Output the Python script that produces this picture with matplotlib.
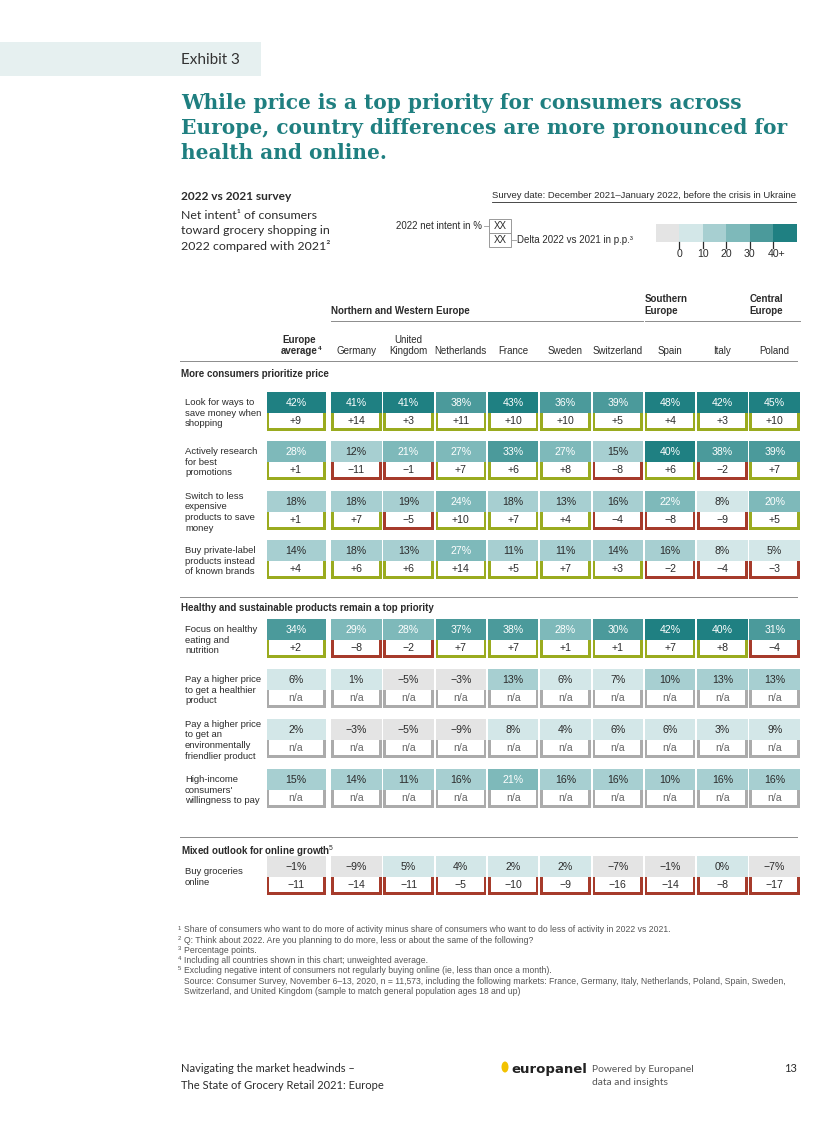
import matplotlib
matplotlib.use('Agg')
import matplotlib.pyplot as plt
from matplotlib.patches import Rectangle, Ellipse

plt.rcParams['mathtext.fontset'] = 'custom'
plt.rcParams['mathtext.rm'] = 'Liberation Sans'
plt.rcParams['mathtext.it'] = 'Liberation Sans:italic'
plt.rcParams['mathtext.bf'] = 'Liberation Sans:bold'

# --- donnees -------------------------------------------------------------
countries = ['Europe\naverage', 'Germany', 'United\nKingdom', 'Netherlands', 'France',
             'Sweden', 'Switzerland', 'Spain', 'Italy', 'Poland']
country_notes = ['4', '', '', '', '', '', '', '', '', '']
regions = ['Northern and Western Europe', 'Southern\nEurope', 'Central\nEurope']
region_cols = [(1, 6), (7, 8), (9, 9)]

section_titles = ['More consumers prioritize price',
                  'Healthy and sustainable products remain a top priority',
                  'Mixed outlook for online growth$^5$']

price_labels = ['Look for ways to\nsave money when\nshopping',
                'Actively research\nfor best\npromotions',
                'Switch to less\nexpensive\nproducts to save\nmoney',
                'Buy private-label\nproducts instead\nof known brands']
save_money = [42, 41, 41, 38, 43, 36, 39, 48, 42, 45]
save_money_delta = [9, 14, 3, 11, 10, 10, 5, 4, 3, 10]
research = [28, 12, 21, 27, 33, 27, 15, 40, 38, 39]
research_delta = [1, -11, -1, 7, 6, 8, -8, 6, -2, 7]
switch = [18, 18, 19, 24, 18, 13, 16, 22, 8, 20]
switch_delta = [1, 7, -5, 10, 7, 4, -4, -8, -9, 5]
private_label = [14, 18, 13, 27, 11, 11, 14, 16, 8, 5]
private_label_delta = [4, 6, 6, 14, 5, 7, 3, -2, -4, -3]

health_labels = ['Focus on healthy\neating and\nnutrition',
                 'Pay a higher price\nto get a healthier\nproduct',
                 'Pay a higher price\nto get an\nenvironmentally\nfriendlier product',
                 'High-income\nconsumers\'\nwillingness to pay']
healthy = [34, 29, 28, 37, 38, 28, 30, 42, 40, 31]
healthy_delta = [2, -8, -2, 7, 7, 1, 1, 7, 8, -4]
healthier = [6, 1, -5, -3, 13, 6, 7, 10, 13, 13]
greener = [2, -3, -5, -9, 8, 4, 6, 6, 3, 9]
high_income = [15, 14, 11, 16, 21, 16, 16, 10, 16, 16]
no_delta = [None] * 10

online_labels = ['Buy groceries\nonline']
online = [-1, -9, 5, 4, 2, 2, -7, -1, 0, -7]
online_delta = [-11, -14, -11, -5, -10, -9, -16, -14, -8, -17]

scale_ticks = ['0', '10', '20', '30', '40+']
bin_edges = [0, 10, 20, 30, 40]
palette = ['#e4e4e4', '#d3e7e8', '#a7cfd1', '#7eb9ba', '#4b9a9b', '#1f8082']

footnotes = [
    ('1', 'Share of consumers who want to do more of activity minus share of consumers who want to do less of activity in 2022 vs 2021.'),
    ('2', 'Q: Think about 2022. Are you planning to do more, less or about the same of the following?'),
    ('3', 'Percentage points.'),
    ('4', 'Including all countries shown in this chart; unweighted average.'),
    ('5', 'Excluding negative intent of consumers not regularly buying online (ie, less than once a month).'),
    ('', 'Source: Consumer Survey, November 6–13, 2020, n = 11,573, including the following markets: France, Germany, Italy, Netherlands, Poland, Spain, Sweden,'),
    ('', 'Switzerland, and United Kingdom (sample to match general population ages 18 and up)'),
]

# --- styles ---------------------------------------------------------------
NARROW = ['Liberation Sans', 'DejaVu Sans']
WIDE = ['Lato', 'DejaVu Sans']
TEAL = '#1f7f80'
GREEN = '#9aab1f'
RED = '#a63b2b'
GREY = '#ababab'
DARK = '#2b2b2b'

fig = plt.figure(figsize=(8.4, 11.4), dpi=100)
ax = fig.add_axes([0, 0, 1, 1])
ax.set_xlim(0, 840)
ax.set_ylim(1140, 0)
ax.axis('off')

# colonnes
col_left = [266.5] + [331 + 52.3 * i for i in range(9)]
col_w = [59] + [50.5] * 9
col_c = [l + w / 2 for l, w in zip(col_left, col_w)]
TOP_H, BOT_H, BORDER = 20.5, 18, 2.6


def bin_of(v):
    if v < 0:
        return 0
    k = 1
    for e in bin_edges[1:]:
        if v >= e:
            k += 1
    return k


def fmt_delta(d):
    if d is None:
        return 'n/a'
    if d > 0:
        return f'+{d}'
    if d < 0:
        return f'\u2212{abs(d)}'
    return '0'


def fmt_val(v):
    return f'{v}%' if v >= 0 else f'\u2212{abs(v)}%'


def draw_row(top, label, values, deltas):
    ax.text(185, top + (TOP_H + BOT_H) / 2 + 2, label, family=NARROW, fontsize=6.8,
            color=DARK, va='center', ha='left', linespacing=1.22)
    for i, (v, d) in enumerate(zip(values, deltas)):
        x, w = col_left[i], col_w[i]
        ax.add_patch(Rectangle((x, top), w, TOP_H, color=palette[bin_of(v)], lw=0))
        ax.text(col_c[i], top + TOP_H / 2 + 0.5, fmt_val(v), family=NARROW, fontsize=7.6,
                color='white' if v >= 20 else DARK, ha='center', va='center')
        bc = GREY if d is None else (GREEN if d > 0 else RED)
        ax.add_patch(Rectangle((x, top + TOP_H), w, BOT_H, color=bc, lw=0))
        ax.add_patch(Rectangle((x + BORDER, top + TOP_H), w - 2 * BORDER, BOT_H - BORDER,
                               color='white', lw=0))
        ax.text(col_c[i], top + TOP_H + (BOT_H - BORDER) / 2 + 0.5, fmt_delta(d), family=NARROW,
                fontsize=7.6, color='#666666' if d is None else DARK, ha='center', va='center')


# --- en-tete --------------------------------------------------------------
ax.add_patch(Rectangle((0, 42), 261, 34, color='#e6f0f0', lw=0))
ax.text(181, 60, 'Exhibit 3', family=WIDE, fontsize=11, color='#333333', va='center')
ax.text(181, 128, 'While price is a top priority for consumers across\n'
        'Europe, country differences are more pronounced for\nhealth and online.',
        family='DejaVu Serif', fontweight='bold', fontsize=14.5, color=TEAL, va='center',
        linespacing=1.3)

ax.text(181, 196, '2022 vs 2021 survey', family=WIDE, fontweight='bold', fontsize=8.6,
        color=DARK, va='center')
ax.text(181, 231, 'Net intent¹ of consumers\ntoward grocery shopping in\n2022 compared with 2021²',
        family=WIDE, fontsize=8.9, color=DARK, va='center', linespacing=1.45)
survey = ax.text(796, 196, 'Survey date: December 2021\u2013January 2022, before the crisis in Ukraine',
                 family=NARROW, fontsize=6.8, color=DARK, ha='right', va='center')
fig.canvas.draw()
bb = survey.get_window_extent().transformed(ax.transData.inverted())
ax.plot([min(bb.x0, bb.x1), max(bb.x0, bb.x1)], [201.5, 201.5], color=DARK, lw=0.6)

# legende XX
ax.text(482, 226, '2022 net intent in %', family=NARROW, fontsize=7, color=DARK,
        ha='right', va='center')
ax.plot([484, 489], [226, 226], color='#999999', lw=0.6)
for ytop, txt in [(219, 'XX'), (233, 'XX')]:
    ax.add_patch(Rectangle((489, ytop), 22, 14, fill=False, ec='#999999', lw=0.7))
    ax.text(500, ytop + 7, txt, family=NARROW, fontsize=7, color=DARK, ha='center', va='center')
ax.plot([511, 516], [240, 240], color='#999999', lw=0.6)
ax.text(517, 240, 'Delta 2022 vs 2021 in p.p.³', family=NARROW, fontsize=7, color=DARK,
        va='center')

# echelle de couleurs
sw = 23.45
for k, c in enumerate(palette):
    ax.add_patch(Rectangle((656 + k * sw, 224), sw, 18, color=c, lw=0))
for k, t in enumerate(scale_ticks):
    xt = 656 + (k + 1) * sw
    ax.plot([xt, xt], [242, 248], color=DARK, lw=0.9)
    ax.text(xt + (3 if t == '40+' else 0), 254, t, family=NARROW, fontsize=7.6, color=DARK,
            ha='center', va='center')

# --- en-tetes de colonnes --------------------------------------------------
for name, (a, b) in zip(regions, region_cols):
    x0, x1 = col_left[a], col_left[b] + col_w[b]
    ax.text(x0, 316, name, family=NARROW, fontweight='bold', fontsize=7, color=DARK,
            va='bottom', linespacing=1.3)
    ax.plot([x0, x1], [321, 321], color='#8c8c8c', lw=0.7)

fig.canvas.draw()
for i, (name, note) in enumerate(zip(countries, country_notes)):
    t = ax.text(col_c[i] + (3 if i == 0 else 0), 356, name, family=NARROW,
                fontweight='bold' if i == 0 else 'normal', fontsize=7, color=DARK,
                ha='center', va='bottom', linespacing=1.15, multialignment='center')
    if note:
        nb = t.get_window_extent(renderer=fig.canvas.get_renderer())
        nb = nb.transformed(ax.transData.inverted())
        ax.text(max(nb.x0, nb.x1) + 0.5, 349, note, family=NARROW, fontweight='bold',
                fontsize=4.6, color=DARK, ha='left', va='center')
ax.plot([180, 797], [361, 361], color='#8c8c8c', lw=0.7)

# --- sections -------------------------------------------------------------
ax.text(181, 374, section_titles[0], family=NARROW, fontweight='bold', fontsize=7,
        color=DARK, va='center')
price_rows = [(save_money, save_money_delta), (research, research_delta),
              (switch, switch_delta), (private_label, private_label_delta)]
for top, lab, (vals, dels) in zip([392, 441, 491, 540], price_labels, price_rows):
    draw_row(top, lab, vals, dels)

ax.plot([180, 797], [597, 597], color='#8c8c8c', lw=0.7)
ax.text(181, 608, section_titles[1], family=NARROW, fontweight='bold', fontsize=7,
        color=DARK, va='center')
health_rows = [(healthy, healthy_delta), (healthier, no_delta),
               (greener, no_delta), (high_income, no_delta)]
for top, lab, (vals, dels) in zip([619, 669, 719, 769], health_labels, health_rows):
    draw_row(top, lab, vals, dels)

ax.plot([180, 797], [837, 837], color='#8c8c8c', lw=0.7)
ax.text(181, 851, section_titles[2], family=NARROW, fontweight='bold', fontsize=7,
        color=DARK, va='center')
draw_row(856, online_labels[0], online, online_delta)

# --- notes ----------------------------------------------------------------
for k, (num, txt) in enumerate(footnotes):
    y = 930 + k * 10.2
    if num:
        ax.text(178, y - 2, num, family=NARROW, fontsize=4.3, color='#555555', va='center')
    ax.text(184, y, txt, family=NARROW, fontsize=6.2, color='#555555', va='center')

# --- pied de page ---------------------------------------------------------
ax.text(181, 1077, 'Navigating the market headwinds \u2013\nThe State of Grocery Retail 2021: Europe',
        family=WIDE, fontsize=8, color=DARK, va='center', linespacing=1.6)
ax.add_patch(Ellipse((505, 1067), 7, 11, color='#f2c200', lw=0))
ax.text(511, 1069, 'europanel', family='DejaVu Sans', fontweight='bold', fontsize=9.5,
        color='#222222', va='center')
ax.text(592, 1076, 'Powered by Europanel\ndata and insights', family=WIDE, fontsize=7.4,
        color='#555555', va='center', linespacing=1.6)
ax.text(797, 1068, '13', family=WIDE, fontsize=8, color=DARK, ha='right', va='center')

fig.savefig('out.png', dpi=100)
